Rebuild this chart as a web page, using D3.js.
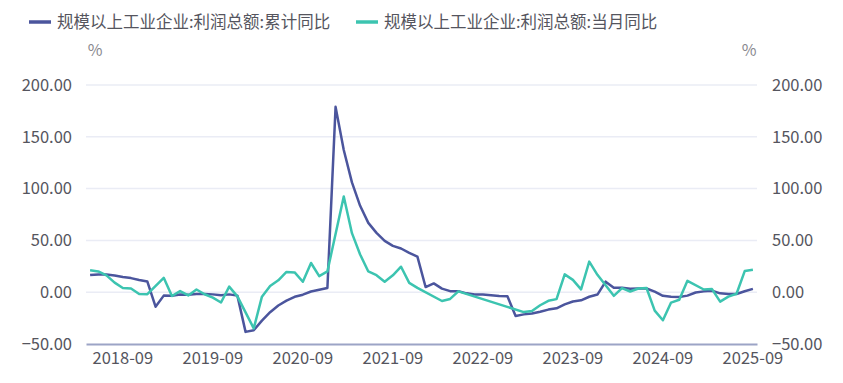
<!DOCTYPE html>
<html>
<head>
<meta charset="utf-8">
<script src="https://cdn.jsdelivr.net/npm/d3@7"></script>
<style>
	body { margin: 0; background: #fff; }
	text { font-family: "Noto Sans CJK SC", "Noto Sans", sans-serif; }
</style>
</head>
<body>
<svg id="chart" width="843" height="383"></svg>
<script>
// months (Jan is folded into Feb, so each year starts at -02)
var months = [
	'2018-05','2018-06','2018-07','2018-08','2018-09','2018-10','2018-11','2018-12',
	'2019-02','2019-03','2019-04','2019-05','2019-06','2019-07','2019-08','2019-09','2019-10','2019-11','2019-12',
	'2020-02','2020-03','2020-04','2020-05','2020-06','2020-07','2020-08','2020-09','2020-10','2020-11','2020-12',
	'2021-02','2021-03','2021-04','2021-05','2021-06','2021-07','2021-08','2021-09','2021-10','2021-11','2021-12',
	'2022-02','2022-03','2022-04','2022-05','2022-06','2022-07','2022-08','2022-09','2022-10','2022-11','2022-12',
	'2023-02','2023-03','2023-04','2023-05','2023-06','2023-07','2023-08','2023-09','2023-10','2023-11','2023-12',
	'2024-02','2024-03','2024-04','2024-05','2024-06','2024-07','2024-08','2024-09','2024-10','2024-11','2024-12',
	'2025-02','2025-03','2025-04','2025-05','2025-06','2025-07','2025-08','2025-09'
];

// 累计同比
var cumulative = [
	16.5, 17.2, 17.1, 16.2, 14.7, 13.6, 11.8, 10.3,
	-14.0, -3.3, -3.4, -2.3, -2.4, -1.7, -1.7, -2.1, -2.9, -2.1, -3.3,
	-38.3, -36.7, -27.4, -19.3, -12.8, -8.1, -4.4, -2.4, 0.7, 2.4, 4.1,
	178.9, 137.3, 106.0, 83.4, 66.9, 57.3, 49.5, 44.7, 42.2, 38.0, 34.3,
	5.0, 8.5, 3.5, 1.0, 1.0, -1.1, -2.1, -2.3, -3.0, -3.6, -4.0,
	-22.9, -21.4, -20.6, -18.8, -16.8, -15.5, -11.7, -9.0, -7.8, -4.4, -2.3,
	10.2, 4.3, 4.3, 3.4, 3.5, 3.6, 0.5, -3.5, -4.3, -4.7, -3.3,
	-0.3, 0.8, 1.4, -1.1, -1.8, -1.7, 0.9, 3.2
];

// 当月同比 (null = no value that month, line joins across)
var monthly = [
	21.1, 20.0, 16.2, 9.2, 4.1, 3.6, -1.8, -1.9,
	null, 13.9, -3.7, 1.1, -3.1, 2.6, -2.0, -5.3, -9.9, 5.4, -4.0,
	null, -34.9, -4.3, 6.0, 11.5, 19.6, 19.1, 10.1, 28.2, 15.5, 20.1,
	null, 92.3, 57.0, 36.4, 20.0, 16.4, 10.1, 16.3, 24.6, 9.0, 4.2,
	null, null, -8.5, -6.5, 0.8, null, null, null, null, null, null,
	null, -19.2, -18.2, -12.6, -8.3, -6.7, 17.2, 11.9, 2.7, 29.5, 16.8,
	null, -3.5, 4.0, 0.7, 3.6, 4.1, -17.8, -27.1, -10.0, -7.3, 11.0,
	null, 2.6, 3.0, -9.1, -4.3, -1.5, 20.4, 21.6
];

var yTicks = [-50, 0, 50, 100, 150, 200];
var xTickLabels = ['2018-09','2019-09','2020-09','2021-09','2022-09','2023-09','2024-09','2025-09'];

var seriesNames = ['规模以上工业企业:利润总额:累计同比', '规模以上工业企业:利润总额:当月同比'];
var colors = ['#4b559d', '#3cc4b0'];

const svg = d3.select('#chart');
const plotLeft = 86, plotRight = 757, plotTop = 85, plotBottom = 344;
const textColor = '#55555e';

const x = d3.scaleBand()
	.domain(months)
	.range([plotLeft, plotRight]);

const y = d3.scaleLinear()
	.domain([-50, 200])
	.range([plotBottom, plotTop]);

const cx = d => x(d) + x.bandwidth() / 2;

// grid
svg.append('g')
	.selectAll('line')
	.data(yTicks.filter(t => t > -50))
	.enter().append('line')
	.attr('x1', plotLeft)
	.attr('x2', plotRight)
	.attr('y1', d => y(d))
	.attr('y2', d => y(d))
	.attr('stroke', '#eaecf5')
	.attr('stroke-width', 1.5);

// left and right value axes
const axisLeft = d3.axisLeft(y).tickValues(yTicks).tickFormat(d3.format('.2f')).tickSize(0).tickPadding(14);
const axisRight = d3.axisRight(y).tickValues(yTicks).tickFormat(d3.format('.2f')).tickSize(0).tickPadding(15);

[[axisLeft, plotLeft], [axisRight, plotRight]].forEach(a => {
	const g = svg.append('g')
		.attr('transform', `translate(${a[1]},0)`)
		.call(a[0]);
	g.select('.domain').remove();
	g.selectAll('text')
		.attr('fill', textColor)
		.style('font-size', '16.5px')
		.attr('font-family', '"Noto Sans", sans-serif');
});

// category axis
const xAxis = d3.axisBottom(x).tickValues(xTickLabels).tickSize(0).tickPadding(8);
const gx = svg.append('g')
	.attr('transform', `translate(0,${plotBottom})`)
	.call(xAxis);
gx.select('.domain')
	.attr('stroke', '#9ca4c6')
	.attr('stroke-width', 2);
gx.selectAll('text')
	.attr('fill', textColor)
	.style('font-size', '16.5px')
	.attr('font-family', '"Noto Sans", sans-serif');

// unit labels
svg.append('text').attr('x', 95).attr('y', 56).attr('text-anchor', 'middle')
	.attr('fill', '#8a8a90').style('font-size', '16px').text('%');
svg.append('text').attr('x', 749).attr('y', 56).attr('text-anchor', 'middle')
	.attr('fill', '#8a8a90').style('font-size', '16px').text('%');

// lines
const line = d3.line()
	.x(d => cx(d.month))
	.y(d => y(d.value));

[cumulative, monthly].forEach((values, i) => {
	let pts = months.map((m, j) => ({month: m, value: values[j]}))
		.filter(d => d.value != null);
	svg.append('path')
		.datum(pts)
		.attr('d', line)
		.attr('fill', 'none')
		.attr('stroke', colors[i])
		.attr('stroke-width', 2.5)
		.attr('stroke-linejoin', 'round');
});

// legend
const legendX = [29, 356];
seriesNames.forEach((name, i) => {
	const g = svg.append('g').attr('transform', `translate(${legendX[i]},22)`);
	g.append('line')
		.attr('x1', 0).attr('x2', 22)
		.attr('y1', 0).attr('y2', 0)
		.attr('stroke', colors[i])
		.attr('stroke-width', 3.5);
	g.append('text')
		.attr('x', 28)
		.attr('y', 6)
		.attr('fill', textColor)
		.style('font-size', '16.5px')
		.text(name);
});
</script>
</body>
</html>
